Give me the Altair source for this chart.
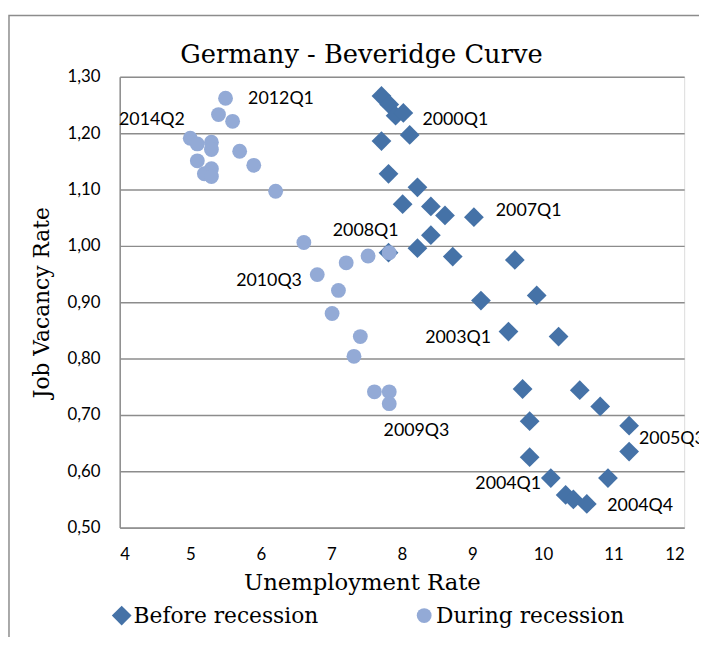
import altair as alt
import pandas as pd

# Before recession (2000Q1 - 2008Q1)
before_u = [7.71, 7.82, 7.91, 8.02, 8.11, 7.71, 7.81, 8.22, 8.01, 8.41, 8.61, 9.02,
            8.41, 8.22, 7.81, 8.72, 9.60, 9.12, 9.91, 9.51, 10.22, 9.71, 10.52, 10.81,
            11.22, 9.81, 11.22, 9.81, 10.11, 10.92, 10.32, 10.43, 10.62]
before_v = [1.266, 1.251, 1.231, 1.236, 1.197, 1.186, 1.128, 1.104, 1.074, 1.070, 1.054, 1.051,
            1.019, 0.996, 0.988, 0.981, 0.975, 0.903, 0.912, 0.848, 0.839, 0.746, 0.744, 0.715,
            0.681, 0.689, 0.635, 0.625, 0.588, 0.588, 0.558, 0.550, 0.542]

# During recession (2008Q1 - 2014Q2)
during_u = [5.50, 5.40, 5.60, 5.00, 5.10, 5.30, 5.30, 5.70, 5.10, 5.90, 5.30, 5.20, 5.30,
            6.21, 6.61, 7.52, 7.82, 7.21, 6.80, 7.10, 7.01, 7.41, 7.32, 7.61, 7.82, 7.82]
during_v = [1.262, 1.233, 1.221, 1.191, 1.181, 1.184, 1.171, 1.168, 1.151, 1.143, 1.137, 1.128, 1.123,
            1.097, 1.006, 0.982, 0.988, 0.970, 0.949, 0.921, 0.880, 0.839, 0.804, 0.741, 0.741, 0.720]

# Annotations
label_text = ["2014Q2", "2012Q1", "2000Q1", "2007Q1", "2008Q1", "2010Q3",
              "2003Q1", "2009Q3", "2005Q3", "2004Q1", "2004Q4"]
label_u = [3.99, 5.82, 8.29, 9.33, 7.02, 5.65, 8.33, 7.74, 11.36, 9.04, 10.91]
label_v = [1.223, 1.260, 1.223, 1.061, 1.026, 0.937, 0.837, 0.672, 0.658, 0.577, 0.539]

series = ["Before recession", "During recession"]

df = pd.DataFrame({
    "u": before_u + during_u,
    "v": before_v + during_v,
    "s": [series[0]] * len(before_u) + [series[1]] * len(during_u),
})
labels = pd.DataFrame({"t": label_text, "u": label_u, "v": label_v})

SERIF = "DejaVu Serif"
SANS = "Lato"

xs = alt.Scale(domain=[4, 12], nice=False, zero=False)
ys = alt.Scale(domain=[0.5, 1.3], nice=False, zero=False)

frame = alt.Chart(pd.DataFrame({"a": [0]})).mark_rect(
    fill=None, stroke="#8c8c8c", strokeWidth=1.5, clip=False
).encode(x=alt.value(-112), y=alt.value(-62), x2=alt.value(720), y2=alt.value(700))

points = alt.Chart(df).mark_point(filled=True, opacity=1).encode(
    x=alt.X("u:Q", scale=xs, axis=alt.Axis(
        values=list(range(4, 13)), format="d", title="Unemployment Rate", grid=False, ticks=False,
        domainColor="#8c8c8c", domainWidth=1.5, labelFont=SANS, labelFontSize=17,
        labelColor="#000", labelPadding=19, titleFont=SERIF, titleFontSize=23,
        titleFontWeight="normal", titleColor="#000", titleX=245, titleY=56,
        titleBaseline="middle")),
    y=alt.Y("v:Q", scale=ys, axis=alt.Axis(
        values=[0.5, 0.6, 0.7, 0.8, 0.9, 1.0, 1.1, 1.2, 1.3],
        labelExpr="replace(format(datum.value, '.2f'), '.', ',')",
        title="Job Vacancy Rate", grid=True, gridColor="#8c8c8c", gridWidth=1.5,
        ticks=False, domainColor="#8c8c8c", domainWidth=1.5, labelFont=SANS,
        labelFontSize=17, labelColor="#000", labelPadding=20, titleFont=SERIF,
        titleFontSize=22, titleFontWeight="normal", titleColor="#000",
        titleX=-79, titleY=228, titleBaseline="middle", titleAngle=-90)),
    color=alt.Color("s:N", scale=alt.Scale(domain=series, range=["#4572A7", "#93AAD6"]),
                    legend=alt.Legend(title=None, orient="none", legendX=-9, legendY=534,
                                      direction="horizontal", labelFont=SERIF,
                                      labelFontSize=22, labelColor="#000", labelLimit=400,
                                      symbolSize=200, labelOffset=1, columnPadding=95,
                                      symbolStrokeWidth=0)),
    shape=alt.Shape("s:N", scale=alt.Scale(domain=series, range=["diamond", "circle"])),
    size=alt.Size("s:N", scale=alt.Scale(domain=series, range=[400, 225]), legend=None),
)

text = alt.Chart(labels).mark_text(
    align="left", baseline="middle", font=SANS, fontSize=18, color="#000", clip=False
).encode(x=alt.X("u:Q", scale=xs), y=alt.Y("v:Q", scale=ys), text="t:N")

chart = alt.layer(frame, points, text).properties(
    width=571, height=456,
    title=alt.TitleParams("Germany - Beveridge Curve", font=SERIF, fontSize=26,
                          fontWeight="normal", color="#000", anchor="middle", frame="group",
                          dx=-41, offset=9, dy=63),
    autosize=alt.AutoSizeParams(type="none"),
    padding={"left": 113, "top": 66, "right": 15, "bottom": 107},
).configure_view(stroke=None).configure(background="white")

chart.save("out.html", embed_options={"renderer": "svg", "actions": False})
